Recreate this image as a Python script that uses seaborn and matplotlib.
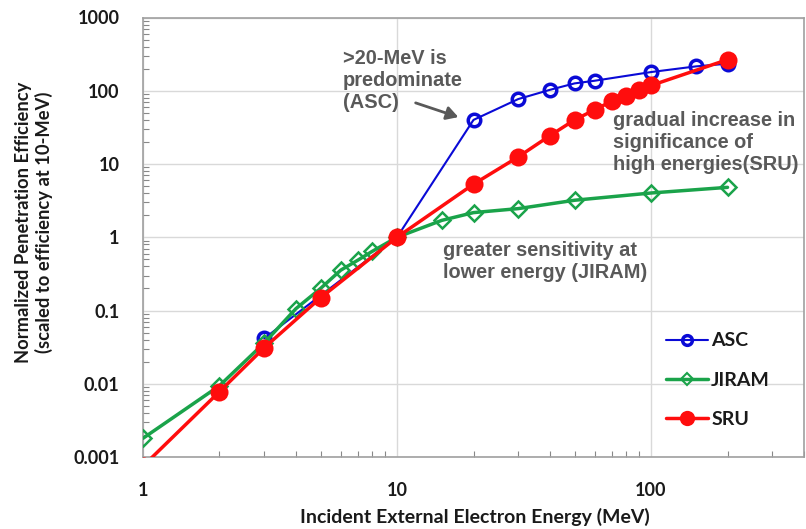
import matplotlib
matplotlib.use("Agg")
import matplotlib.pyplot as plt
import seaborn as sns
import pandas as pd
from matplotlib.lines import Line2D
from matplotlib.ticker import LogLocator, NullFormatter, FixedLocator, FixedFormatter

# ---- data ----
asc_x = [3, 10, 20, 30, 40, 50, 60, 100, 150, 200]
asc_y = [0.0415, 1, 40, 77, 103, 126, 137, 180, 215, 234]

jiram_x = [1, 2, 3, 4, 5, 6, 7, 8, 10, 15, 20, 30, 50, 100, 200]
jiram_y = [0.0018, 0.0094, 0.036, 0.106, 0.2, 0.355, 0.485, 0.644, 1, 1.7, 2.17, 2.46, 3.2, 4.02, 4.8]

sru_x = [1, 2, 3, 5, 10, 20, 30, 40, 50, 60, 70, 80, 90, 100, 200]
sru_y = [0.00075, 0.0078, 0.031, 0.149, 1, 5.3, 12.5, 24.4, 40, 55, 72, 85, 101, 118, 266]

x_ticks = [1, 10, 100]
x_ticklabels = ["1", "10", "100"]
y_ticks = [0.001, 0.01, 0.1, 1, 10, 100, 1000]
y_ticklabels = ["0.001", "0.01", "0.1", "1", "10", "100", "1000"]

W, H = 806, 529
sns.set_theme(style="white")
plt.rcParams['font.family'] = ['Lato', 'DejaVu Sans']

fig = plt.figure(figsize=(W / 100, H / 100), dpi=100)
L, R, T, B = 143, 804, 17.5, 457
ax = fig.add_axes([L / W, 1 - B / H, (R - L) / W, (B - T) / H])

def fx(px):
    return px / W

def fy(py):
    return 1 - py / H

c_asc = "#0a0ad6"
c_jir = "#1aa34a"
c_sru = "#ff0d0d"

df_asc = pd.DataFrame({"x": asc_x, "y": asc_y})
df_jir = pd.DataFrame({"x": jiram_x, "y": jiram_y})
df_sru = pd.DataFrame({"x": sru_x, "y": sru_y})

sns.lineplot(data=df_asc, x="x", y="y", ax=ax, color=c_asc, lw=1.5, marker="o",
             markersize=9, markerfacecolor="none", markeredgecolor=c_asc,
             markeredgewidth=2.5, estimator=None, sort=False, zorder=3)
sns.lineplot(data=df_jir, x="x", y="y", ax=ax, color=c_jir, lw=2.5, marker="D",
             markersize=8, markerfacecolor="none", markeredgecolor=c_jir,
             markeredgewidth=1.8, estimator=None, sort=False, zorder=4)
sns.lineplot(data=df_sru, x="x", y="y", ax=ax, color=c_sru, lw=2.5, marker="o",
             markersize=13, markerfacecolor=c_sru, markeredgecolor=c_sru,
             markeredgewidth=0, estimator=None, sort=False, zorder=5)

ax.set_xscale("log")
ax.set_yscale("log")
ax.set_xlim(1, 400)
ax.set_ylim(0.001, 1000)

ax.xaxis.set_major_locator(FixedLocator(x_ticks))
ax.xaxis.set_major_formatter(FixedFormatter(x_ticklabels))
ax.yaxis.set_major_locator(FixedLocator(y_ticks))
ax.yaxis.set_major_formatter(FixedFormatter(y_ticklabels))
ax.xaxis.set_minor_locator(LogLocator(base=10, subs=range(2, 10), numticks=20))
ax.yaxis.set_minor_locator(LogLocator(base=10, subs=range(2, 10), numticks=20))
ax.xaxis.set_minor_formatter(NullFormatter())
ax.yaxis.set_minor_formatter(NullFormatter())

ax.grid(True, which="major", color="#d9d9d9", lw=1.0)
ax.tick_params(which="major", length=0, labelsize=13, labelcolor="#1a1a1a")
ax.tick_params(axis="x", which="major", pad=18)
ax.tick_params(axis="y", which="major", pad=17)
ax.tick_params(which="minor", direction="in", length=4, width=0.8, color="#888888",
               bottom=True, left=True)
for lab in ax.get_xticklabels() + ax.get_yticklabels():
    lab.set_fontweight("bold")
for s in ax.spines.values():
    s.set_color("#a0a0a0")
    s.set_linewidth(1.2)

ax.set_xlabel("")
ax.set_ylabel("")
fig.text(fx(475), fy(517), "Incident External Electron Energy (MeV)", ha="center", va="center",
         fontsize=14, fontweight="bold", color="#1a1a1a")
fig.text(fx(34), fy(222), "Normalized Penetration Efficiency\n(scaled to efficiency at 10-MeV)",
         ha="center", va="center", rotation=90, fontsize=13.2, fontweight="bold",
         color="#1a1a1a", linespacing=1.25)

ann_kw = dict(fontsize=14.4, fontweight="bold", color="#595959", family=["Liberation Sans", "DejaVu Sans"],
              linespacing=1.2, va="center", ha="left")
fig.text(fx(343), fy(80), ">20-MeV is\npredominate\n(ASC)", **ann_kw)
fig.text(fx(613), fy(142), "gradual increase in\nsignificance of\nhigh energies(SRU)", **ann_kw)
fig.text(fx(443), fy(261), "greater sensitivity at\nlower energy (JIRAM)", **ann_kw)

fig.add_artist(matplotlib.patches.FancyArrowPatch(
    (fx(413), fy(102)), (fx(461), fy(118)), transform=fig.transFigure,
    arrowstyle="-|>,head_length=7,head_width=4", color="#595959", lw=2))

handles = [
    Line2D([], [], color=c_asc, lw=1.5, marker="o", markersize=7, markerfacecolor="none",
           markeredgecolor=c_asc, markeredgewidth=2.5),
    Line2D([], [], color=c_jir, lw=2.5, marker="D", markersize=6, markerfacecolor="none",
           markeredgecolor=c_jir, markeredgewidth=1.5),
    Line2D([], [], color=c_sru, lw=2.5, marker="o", markersize=11, markerfacecolor=c_sru,
           markeredgewidth=0),
]
leg = fig.legend(handles, ["ASC", "JIRAM", "SRU"], loc="upper left",
                 bbox_to_anchor=(fx(648), fy(315)), frameon=False,
                 prop={"family": ["Lato", "DejaVu Sans"], "weight": "bold", "size": 14},
                 handlelength=2.2, handletextpad=0.15, labelspacing=1.15)
for t in leg.get_texts():
    t.set_color("#1a1a1a")

fig.savefig("out.png", dpi=100)
